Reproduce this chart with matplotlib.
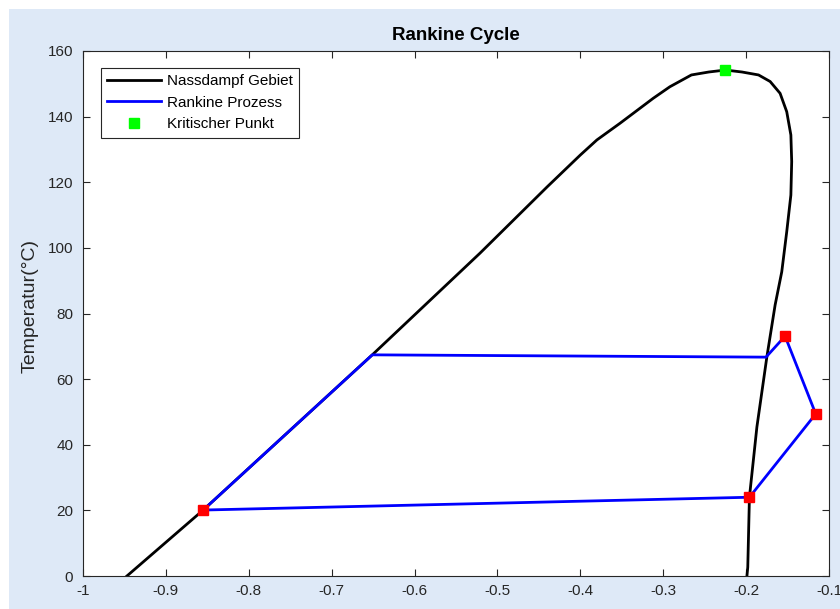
import matplotlib
matplotlib.use("Agg")
import matplotlib.pyplot as plt
from matplotlib.patches import Rectangle

plt.rcParams['font.family'] = ['Liberation Sans', 'DejaVu Sans']

# Saturation dome (Nassdampf Gebiet)
dome_x = [-0.947, -0.855, -0.651, -0.521, -0.440, -0.400, -0.380, -0.352, -0.312, -0.292,
          -0.266, -0.245, -0.225, -0.205, -0.185, -0.171, -0.159, -0.151, -0.146,
          -0.145, -0.146, -0.151, -0.157, -0.165, -0.175, -0.187, -0.196, -0.198,
          -0.199]
dome_y = [0.0, 20.1, 67.4, 98.4, 118.6, 128.3, 132.9, 138.0, 145.6, 149.1,
          152.7, 153.6, 154.2, 153.6, 152.7, 150.7, 147.1, 141.5, 134.4,
          126.3, 116.1, 104.9, 92.7, 82.6, 66.7, 45.4, 24.0, 2.7,
          0.0]

# Rankine process
proc_x = [-0.855, -0.651, -0.176, -0.153, -0.116, -0.196, -0.855]
proc_y = [20.1, 67.4, 66.7, 73.1, 49.4, 24.0, 20.1]

# State points (red markers)
state_x = [-0.855, -0.153, -0.116, -0.196]
state_y = [20.1, 73.1, 49.4, 24.0]

# Critical point
crit_x = [-0.225]
crit_y = [154.2]

xticks = [-1, -0.9, -0.8, -0.7, -0.6, -0.5, -0.4, -0.3, -0.2, -0.1]
xticklabels = ['-1', '-0.9', '-0.8', '-0.7', '-0.6', '-0.5', '-0.4', '-0.3', '-0.2', '-0.1']
yticks = [0, 20, 40, 60, 80, 100, 120, 140, 160]

W, H = 840, 609
fig = plt.figure(figsize=(W / 100, H / 100), dpi=100, facecolor='white')
fig.patches.append(Rectangle((9 / W, 0), 1, (H - 9) / H, transform=fig.transFigure,
                             facecolor='#DEE9F7', edgecolor='none', zorder=-10))

ax = fig.add_axes([83 / W, 1 - 576 / H, (829 - 83) / W, (576 - 51) / H])
ax.set_facecolor('white')

ax.plot(dome_x, dome_y, color='black', lw=2.0, label='Nassdampf Gebiet', zorder=2,
        solid_joinstyle='round')
ax.plot(proc_x, proc_y, color='#0000FF', lw=2.0, label='Rankine Prozess', zorder=3)
ax.plot(state_x, state_y, ls='none', marker='s', ms=6.5, color='#FF0000', zorder=4)
ax.plot(crit_x, crit_y, ls='none', marker='s', ms=6.5, color='#00FF00',
        label='Kritischer Punkt', zorder=4)

ax.set_xlim(-1, -0.1)
ax.set_ylim(0, 160)
ax.set_xticks(xticks)
ax.set_xticklabels(xticklabels)
ax.set_yticks(yticks)

axc = '#262626'
for s in ax.spines.values():
    s.set_color(axc)
    s.set_linewidth(0.8)
ax.tick_params(direction='in', length=5, width=0.8, colors=axc, labelsize=11,
               top=True, right=True, labelcolor=axc)
ax.tick_params(axis='x', pad=6)
ax.tick_params(axis='y', pad=7)

ax.set_title('Rankine Cycle', fontsize=13.5, fontweight='bold', color='black', pad=8)
ax.set_ylabel('Temperatur(°C)', fontsize=14, color=axc)
ax.yaxis.set_label_coords(-44 / 746, 0.515)

leg = ax.legend(loc='upper left', bbox_to_anchor=(18 / 746, 1 - 17 / 525),
                borderaxespad=0, fontsize=11, frameon=True, fancybox=False,
                framealpha=1, edgecolor=axc, handlelength=3.5, handletextpad=0.4,
                labelspacing=0.5, borderpad=0.4)
leg.get_frame().set_linewidth(0.8)

fig.savefig('out.png', dpi=100, facecolor=fig.get_facecolor())
